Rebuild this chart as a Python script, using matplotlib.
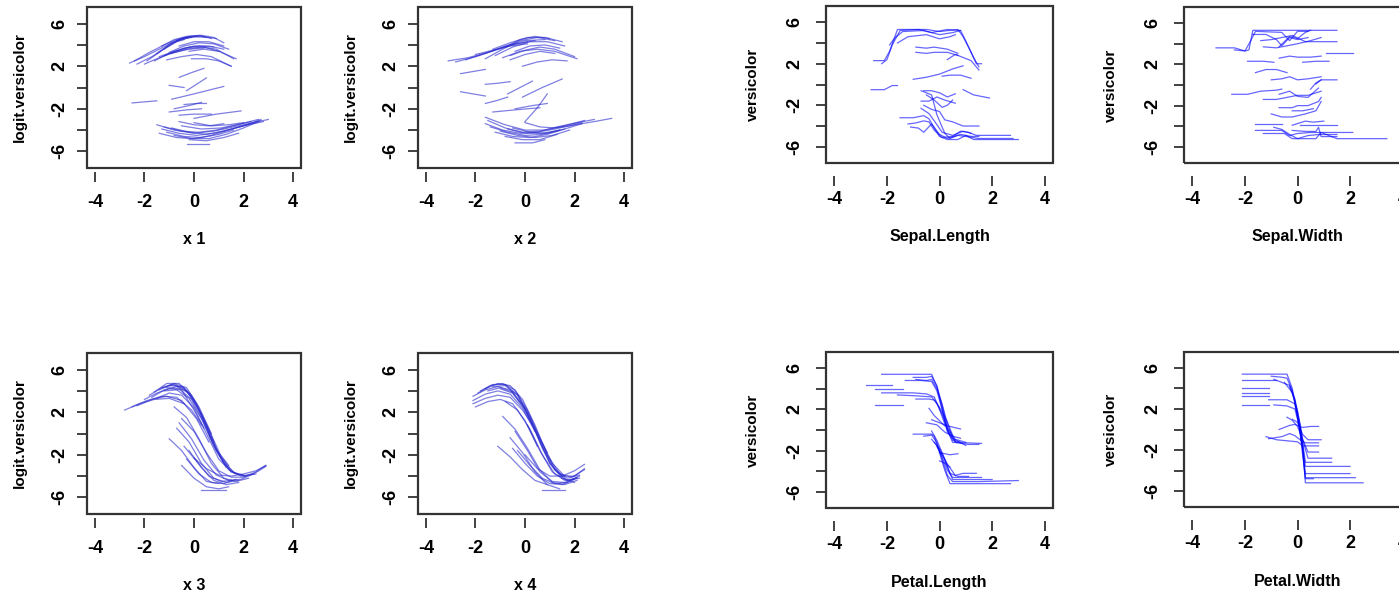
import matplotlib
matplotlib.use("Agg")
import matplotlib.pyplot as plt
from matplotlib.patches import Rectangle

plt.rcParams['font.family'] = ['Liberation Sans', 'DejaVu Sans']
plt.rcParams['font.weight'] = 'bold'
plt.rcParams['axes.unicode_minus'] = False

# ICE curves, one (x, y) pair per curve
x1_curves = [
    ([-2.6, -2.0, -1.4, -0.9, -0.4], [2.3, 2.9, 3.6, 4.2, 4.5]),
    ([-2.3, -1.7, -1.1, -0.6, -0.1], [2.2, 2.9, 3.8, 4.5, 4.7]),
    ([-1.9, -1.4, -0.9, -0.4, 0.1], [2.5, 3.3, 4.2, 4.7, 4.8]),
    ([-1.5, -1.0, -0.5, 0.0, 0.5], [3.2, 4.0, 4.6, 4.8, 4.7]),
    ([-1.2, -0.7, -0.2, 0.3, 0.9], [3.6, 4.3, 4.7, 4.8, 4.6]),
    ([-0.7, -0.2, 0.3, 0.8, 1.2], [4.4, 4.8, 4.9, 4.7, 4.2]),
    ([-2.0, -1.4, -0.8, -0.2, 0.4], [2.2, 2.8, 3.3, 3.6, 3.7]),
    ([-1.6, -1.0, -0.4, 0.2, 0.8], [2.5, 3.2, 3.7, 3.9, 3.8]),
    ([-1.2, -0.6, 0.0, 0.6, 1.2], [3.0, 3.5, 3.9, 3.9, 3.6]),
    ([-0.9, -0.3, 0.3, 0.9, 1.6], [3.2, 3.6, 3.8, 3.6, 2.7]),
    ([-1.1, -0.5, 0.1, 0.7, 1.5], [2.6, 2.9, 3.1, 2.9, 2.0]),
    ([-0.6, 0.0, 0.6, 1.2], [3.9, 4.3, 4.3, 3.9]),
    ([-0.2, 0.4, 1.0, 1.7], [3.4, 3.6, 3.4, 2.7]),
    ([-0.1, 0.5, 1.0, 1.5], [2.7, 2.7, 2.5, 2.0]),
    ([-2.4, -1.8, -1.2, -0.7, -0.2], [2.5, 3.3, 4.0, 4.5, 4.7]),
    ([-1.3, -0.8, -0.3, 0.2, 0.7], [3.9, 4.5, 4.8, 4.9, 4.6]),
    ([-1.0, -0.4, 0.2, 0.8, 1.4], [3.3, 3.9, 4.2, 4.1, 3.6]),
    ([-1.4, -0.8, -0.2, 0.4, 1.0], [2.9, 3.4, 3.8, 3.8, 3.4]),
    ([-2.5, -2.0, -1.5], [-1.45, -1.35, -1.25]),
    ([-0.6, -0.1, 0.4], [0.95, 1.4, 1.8]),
    ([-1.0, -0.7, -0.4], [0.2, 0.1, 0.0]),
    ([-0.3, 0.1, 0.5], [-0.3, 0.3, 0.9]),
    ([-0.9, 0.0, 1.2], [-1.1, -0.6, 0.1]),
    ([-0.8, -0.2, 0.3], [-2.0, -1.7, -1.4]),
    ([-1.0, -0.3, 0.3], [-2.3, -2.1, -2.0]),
    ([-0.6, 0.0, 0.7], [-2.6, -2.5, -2.5]),
    ([0.0, 0.9, 1.9], [-2.9, -2.5, -2.2]),
    ([-0.4, 0.1, 0.5], [-1.6, -1.5, -1.5]),
    ([-1.5, -0.8, 0.0, 0.8, 1.6, 2.4, 3.0], [-3.5, -4.0, -4.3, -4.1, -3.7, -3.3, -3.0]),
    ([-1.3, -0.6, 0.1, 0.8, 1.5, 2.2, 2.8], [-3.9, -4.3, -4.5, -4.3, -3.9, -3.5, -3.2]),
    ([-0.9, -0.2, 0.5, 1.2, 2.0, 2.7], [-3.8, -4.2, -4.4, -4.1, -3.6, -3.1]),
    ([-1.1, -0.4, 0.3, 1.0, 1.6], [-4.2, -4.6, -4.7, -4.4, -4.0]),
    ([-0.3, 0.2, 0.6], [-5.3, -5.3, -5.3]),
    ([-0.5, 0.3, 1.1, 1.9, 2.6], [-3.6, -3.9, -3.8, -3.4, -3.0]),
    ([0.0, 0.7, 1.4, 2.0], [-3.3, -3.6, -3.5, -3.3]),
    ([-0.2, 0.5, 1.2, 1.8], [-4.9, -5.0, -4.7, -4.3]),
    ([-1.4, -0.7, 0.0, 0.7, 1.4, 2.1, 2.7], [-4.3, -4.7, -4.8, -4.5, -4.0, -3.5, -3.0]),
    ([-0.8, -0.1, 0.6, 1.3, 2.0, 2.6], [-4.5, -4.8, -4.8, -4.4, -3.8, -3.2]),
    ([-1.2, -0.5, 0.2, 0.9, 1.6, 2.3], [-3.7, -4.1, -4.2, -4.0, -3.6, -3.2]),
    ([-0.6, 0.0, 0.6, 1.2], [-3.2, -3.5, -3.6, -3.4]),
]

x2_curves = [
    ([-3.1, -2.3, -1.5, -0.7, 0.1], [2.5, 2.8, 3.3, 3.9, 4.3]),
    ([-2.4, -1.6, -0.8, 0.0, 0.8], [2.6, 3.2, 3.9, 4.4, 4.5]),
    ([-1.6, -0.9, -0.2, 0.5, 1.2], [2.7, 3.6, 4.4, 4.7, 4.4]),
    ([-0.8, -0.2, 0.4, 1.0], [3.8, 4.5, 4.8, 4.6]),
    ([-1.2, -0.5, 0.2, 0.9, 1.6], [3.0, 3.8, 4.3, 4.3, 3.9]),
    ([-0.9, -0.2, 0.5, 1.2, 2.1], [2.8, 3.4, 3.6, 3.4, 2.7]),
    ([-0.6, 0.0, 0.6, 1.2], [2.6, 3.1, 3.4, 3.2]),
    ([-0.1, 0.5, 1.1, 1.7], [2.0, 2.4, 2.6, 2.5]),
    ([-0.4, 0.2, 0.8, 1.4], [3.4, 3.9, 4.0, 3.7]),
    ([-2.0, -1.3, -0.6, 0.1], [3.1, 3.5, 3.9, 4.1]),
    ([-2.8, -2.0, -1.2, -0.4, 0.4], [2.4, 2.9, 3.5, 4.1, 4.4]),
    ([-1.3, -0.6, 0.1, 0.8, 1.5], [3.6, 4.2, 4.7, 4.7, 4.3]),
    ([-0.6, 0.0, 0.6, 1.2, 2.0], [3.0, 3.5, 3.8, 3.6, 2.9]),
    ([-2.6, -2.1, -1.6], [1.3, 1.5, 1.7]),
    ([-1.6, -1.1, -0.6], [0.3, 0.4, 0.55]),
    ([-2.6, -2.1, -1.6], [-0.4, -0.6, -0.8]),
    ([-1.6, -1.1, -0.7], [-1.5, -1.2, -0.9]),
    ([-0.7, -0.2, 0.3], [-0.6, 0.0, 0.6]),
    ([-0.1, 0.7, 1.5], [-0.9, 0.0, 0.8]),
    ([-1.3, -0.4, 0.6], [-2.3, -2.1, -1.9]),
    ([0.0, 0.5, 0.9], [-3.2, -1.9, -0.6]),
    ([-0.4, 0.3, 0.9], [-2.0, -1.7, -1.5]),
    ([-1.6, -0.8, 0.0, 0.8, 1.6, 2.4], [-2.8, -3.5, -4.0, -4.0, -3.6, -3.1]),
    ([-1.6, -0.9, -0.2, 0.5, 1.2, 2.0, 2.8, 3.5], [-3.4, -4.0, -4.3, -4.2, -3.9, -3.5, -3.2, -2.9]),
    ([-1.4, -0.7, 0.0, 0.7, 1.4], [-3.7, -4.2, -4.5, -4.4, -4.0]),
    ([-1.0, -0.3, 0.4, 1.1, 1.8], [-4.1, -4.5, -4.7, -4.5, -4.0]),
    ([-0.4, 0.3, 0.8], [-5.2, -5.2, -4.9]),
    ([-0.8, -0.1, 0.6, 1.3], [-4.6, -4.9, -4.9, -4.4]),
    ([0.0, 0.6, 1.2, 1.8, 2.3], [-3.3, -3.7, -3.8, -3.6, -3.3]),
    ([-0.5, 0.2, 0.9, 1.6], [-3.8, -4.2, -4.3, -3.9]),
    ([-1.5, -0.8, -0.1, 0.6, 1.3, 2.1, 2.8], [-3.1, -3.8, -4.2, -4.1, -3.7, -3.3, -3.0]),
    ([-1.2, -0.5, 0.2, 0.9, 1.6, 2.3], [-4.2, -4.6, -4.7, -4.4, -3.9, -3.4]),
    ([-0.7, 0.0, 0.7, 1.4], [-3.9, -4.3, -4.3, -4.0]),
]

x3_curves = [
    ([-2.8, -2.2, -1.6, -1.0, -0.4], [2.2, 2.8, 3.2, 3.3, 2.8]),
    ([-2.0, -1.5, -1.0, -0.5, 0.0, 0.4], [3.2, 3.8, 4.2, 4.1, 2.2, 0.5]),
    ([-1.8, -1.3, -0.8, -0.3, 0.2, 0.7], [3.6, 4.3, 4.7, 4.3, 2.5, 0.0]),
    ([-1.6, -1.1, -0.6, -0.1, 0.4, 0.9, 1.4], [3.9, 4.7, 4.7, 3.6, 1.2, -1.5, -3.0]),
    ([-1.3, -0.8, -0.3, 0.2, 0.7, 1.2, 1.7], [4.3, 4.6, 4.0, 2.2, -0.6, -2.8, -3.8]),
    ([-1.0, -0.5, 0.0, 0.5, 1.0, 1.5, 2.0, 2.5], [4.5, 4.4, 3.2, 0.8, -1.9, -3.6, -4.0, -3.8]),
    ([-2.3, -1.7, -1.1, -0.5, 0.1, 0.6], [2.6, 3.2, 3.5, 3.1, 1.4, -0.8]),
    ([-1.5, -1.0, -0.5, 0.0, 0.5, 1.0, 1.5, 2.0], [3.3, 3.8, 3.6, 2.4, 0.0, -2.4, -3.6, -3.9]),
    ([-0.5, 0.0, 0.5, 1.0, 1.5, 2.0, 2.5, 2.9], [1.4, 0.2, -1.8, -3.5, -4.1, -4.1, -3.6, -3.0]),
    ([-0.7, -0.2, 0.3, 0.8, 1.3, 1.8], [0.5, -0.8, -2.8, -4.2, -4.6, -4.4]),
    ([-1.0, -0.5, 0.0, 0.5, 1.0], [-0.5, -1.6, -3.2, -4.5, -4.7]),
    ([-0.5, 0.0, 0.5, 1.0, 1.4], [-3.0, -4.2, -5.0, -5.2, -5.0]),
    ([-0.3, 0.2, 0.7, 1.2, 1.7], [-2.4, -3.8, -4.6, -4.7, -4.3]),
    ([0.0, 0.5, 1.0, 1.5, 2.0, 2.5, 2.9], [-2.3, -3.3, -3.9, -4.0, -3.8, -3.5, -3.0]),
    ([-0.4, 0.1, 0.6, 1.1, 1.5], [-1.2, -2.6, -4.0, -4.5, -4.4]),
    ([0.3, 0.8, 1.3], [-5.3, -5.3, -5.3]),
    ([-1.2, -0.7, -0.2, 0.3, 0.8, 1.3], [4.0, 4.1, 3.3, 1.4, -1.2, -3.2]),
    ([-0.8, -0.3, 0.2, 0.7, 1.2, 1.7, 2.2], [2.5, 1.5, -0.5, -2.8, -4.2, -4.5, -4.2]),
    ([-2.5, -1.9, -1.3, -0.7, -0.1, 0.3], [2.5, 3.1, 3.5, 3.4, 2.2, 0.8]),
    ([-1.4, -0.9, -0.4, 0.1, 0.6, 1.1, 1.6, 2.1], [4.1, 4.6, 4.3, 2.8, 0.4, -2.2, -3.7, -4.0]),
    ([-1.1, -0.6, -0.1, 0.4, 0.9, 1.4, 1.9, 2.4, 2.9], [4.3, 4.2, 3.2, 1.0, -1.6, -3.4, -4.0, -3.8, -3.1]),
    ([-0.6, -0.1, 0.4, 0.9, 1.4, 1.9, 2.4], [1.0, -0.5, -2.5, -3.9, -4.4, -4.3, -3.8]),
    ([-0.2, 0.3, 0.8, 1.3, 1.8], [-1.6, -3.2, -4.4, -4.8, -4.6]),
    ([-1.7, -1.2, -0.7, -0.2, 0.3, 0.8], [3.4, 4.1, 4.4, 3.8, 1.8, -0.8]),
]

x4_curves = [
    ([-2.1, -1.6, -1.1, -0.6, -0.1, 0.3], [2.8, 3.3, 3.6, 3.4, 2.2, 0.8]),
    ([-2.1, -1.6, -1.1, -0.6, -0.1, 0.4, 0.9], [3.5, 4.1, 4.4, 4.1, 2.6, 0.4, -1.8]),
    ([-1.9, -1.4, -0.9, -0.4, 0.1, 0.6, 1.1, 1.6], [3.8, 4.5, 4.7, 4.1, 2.2, -0.4, -2.8, -4.0]),
    ([-1.6, -1.1, -0.6, -0.1, 0.4, 0.9, 1.4, 1.9, 2.4], [4.2, 4.7, 4.5, 3.2, 0.8, -2.0, -3.8, -4.1, -3.4]),
    ([-1.3, -0.8, -0.3, 0.2, 0.7, 1.2, 1.7, 2.2], [4.4, 4.5, 3.6, 1.6, -1.1, -3.4, -4.4, -4.2]),
    ([-2.0, -1.5, -1.0, -0.5, 0.0, 0.5], [2.5, 3.0, 3.2, 2.8, 1.2, -1.2]),
    ([-1.0, -0.5, 0.0, 0.5, 1.0, 1.5, 2.0], [4.2, 3.8, 2.3, -0.2, -2.8, -4.2, -4.6]),
    ([-0.9, -0.4, 0.1, 0.6, 1.1, 1.6, 2.1], [1.6, 0.4, -1.4, -3.4, -4.6, -4.8, -4.4]),
    ([-1.1, -0.6, -0.1, 0.4, 0.9], [-1.2, -2.2, -3.4, -4.4, -4.8]),
    ([-0.6, -0.1, 0.4, 0.9, 1.4], [-0.4, -1.8, -3.6, -4.8, -5.2]),
    ([0.7, 1.1, 1.6], [-5.3, -5.3, -5.3]),
    ([-0.3, 0.2, 0.7, 1.2, 1.7, 2.2], [-1.6, -3.0, -4.2, -4.7, -4.6, -4.0]),
    ([0.1, 0.6, 1.1, 1.6, 2.1], [0.8, -1.6, -3.6, -4.4, -4.2]),
    ([-0.8, -0.3, 0.2, 0.7, 1.2, 1.7], [3.0, 2.2, 0.4, -2.0, -3.8, -4.4]),
    ([0.0, 0.5, 1.0, 1.5, 2.0, 2.4], [-2.0, -3.3, -4.0, -4.0, -3.5, -2.9]),
    ([-1.8, -1.3, -0.8, -0.3, 0.2, 0.7, 1.2, 1.7, 2.2], [4.0, 4.6, 4.6, 3.6, 1.4, -1.4, -3.4, -4.2, -3.9]),
    ([-1.5, -1.0, -0.5, 0.0, 0.5, 1.0, 1.5, 2.0, 2.4], [4.0, 4.3, 3.9, 2.4, -0.2, -2.8, -4.0, -4.0, -3.3]),
    ([-2.1, -1.6, -1.1, -0.6, -0.1, 0.4], [3.1, 3.7, 4.0, 3.7, 2.4, 0.2]),
    ([-0.4, 0.1, 0.6, 1.1, 1.6, 2.1], [0.2, -1.6, -3.6, -4.5, -4.6, -4.1]),
    ([-0.5, 0.0, 0.5, 1.0, 1.5, 2.0], [-1.4, -2.8, -4.0, -4.7, -4.8, -4.3]),
]

sepal_length_curves = [
    ([-2.5, -2.1, -1.9, -1.6, -0.5, 0.0, 0.7, 0.9, 1.2, 1.4, 1.6], [2.3, 2.3, 3.2, 5.3, 5.3, 5.1, 5.3, 4.6, 3.1, 2.0, 2.0]),
    ([-2.2, -2.0, -1.8, -1.5, -0.8, -0.3, 0.3, 0.8, 1.0, 1.3, 1.5], [2.0, 2.4, 3.8, 5.2, 5.3, 5.0, 5.3, 5.2, 4.2, 2.6, 1.7]),
    ([-1.9, -1.7, -1.4, -0.6, 0.0, 0.5, 0.8], [3.8, 4.5, 5.1, 5.2, 4.8, 5.0, 5.2]),
    ([-1.6, -1.2, -0.5, 0.0, 0.4, 0.6], [4.0, 4.6, 4.8, 4.4, 4.6, 4.8]),
    ([-0.9, -0.5, -0.2, 0.3, 0.7], [3.6, 3.5, 3.6, 3.4, 3.0]),
    ([-0.9, -0.5, -0.2, 0.3, 0.7], [3.1, 3.0, 3.1, 3.1, 2.8]),
    ([0.3, 0.6, 0.9, 1.2, 1.5], [2.4, 2.9, 2.6, 2.3, 1.4]),
    ([-1.0, -0.5, 0.0, 0.5, 0.9], [0.5, 0.7, 1.0, 1.5, 1.8]),
    ([0.1, 0.4, 0.8, 1.2], [0.8, 0.9, 0.9, 0.6]),
    ([-2.6, -2.1, -1.8, -1.6], [-0.5, -0.5, -0.1, -0.1]),
    ([-0.6, -0.3, 0.0, 0.3, 0.6], [-0.6, -0.6, -0.8, -1.2, -0.9]),
    ([0.9, 1.3, 1.9], [-0.5, -1.0, -1.3]),
    ([-0.7, -0.3, -0.1, 0.2, 0.4, 0.7, 1.0, 1.5, 2.8], [-0.6, -1.0, -2.9, -4.7, -5.2, -4.9, -5.0, -5.2, -5.2]),
    ([-1.5, -1.0, -0.6, -0.4, -0.2, 0.0, 0.3, 0.7, 1.0, 1.3, 3.0], [-3.2, -3.2, -3.0, -3.3, -4.2, -5.0, -5.3, -5.3, -4.9, -5.3, -5.3]),
    ([-1.2, -0.9, -0.6, -0.4, -0.2, 0.1, 0.5, 0.8, 1.1, 1.4, 2.7], [-3.8, -3.7, -3.5, -3.6, -4.4, -5.1, -5.0, -4.5, -4.6, -4.9, -4.9]),
    ([-1.1, -0.8, -0.6, -0.3, 0.0, 0.3, 0.8, 1.2, 1.5], [-4.1, -4.2, -4.6, -3.8, -4.8, -5.2, -4.8, -5.0, -5.0]),
    ([-0.7, -0.4, -0.2, 0.1, 0.5, 0.9, 1.2], [-2.3, -2.8, -3.5, -4.6, -4.9, -4.5, -4.7]),
    ([-0.6, -0.3, 0.0, 0.2, 0.5, 0.9, 1.5], [-2.0, -2.4, -2.6, -3.4, -3.6, -4.0, -4.0]),
    ([-0.5, -0.2, 0.1, 0.3, 0.5], [-1.0, -1.5, -2.2, -2.0, -1.5]),
    ([-0.7, -0.4, -0.1, 0.2, 0.6], [-1.6, -1.6, -1.2, -1.5, -1.8]),
]

sepal_width_curves = [
    ([-3.1, -2.4, -2.0, -1.85, -1.7, -0.5, 0.0, 1.5], [3.6, 3.6, 3.3, 3.4, 5.3, 5.3, 5.3, 5.3]),
    ([-2.4, -2.0, -1.8, -1.6, -0.6, -0.3, 0.0, 0.4], [3.4, 3.3, 4.2, 5.2, 5.1, 4.3, 5.2, 5.2]),
    ([-1.7, -1.2, -0.8, -0.6, -0.3, 0.0, 0.4], [4.9, 4.9, 4.4, 3.8, 4.6, 4.4, 4.6]),
    ([-1.4, -1.0, -0.6, -0.2, 0.3, 1.5], [4.3, 4.4, 4.6, 4.8, 4.2, 4.2]),
    ([-1.3, -0.8, -0.4, 0.0, 0.5, 0.9], [3.7, 3.6, 3.8, 4.0, 4.3, 4.6]),
    ([-0.7, -0.3, 0.0, 0.3, 0.5], [3.7, 4.7, 4.5, 5.1, 5.3]),
    ([-0.7, -0.3, 0.0, 0.5, 0.9], [2.6, 2.8, 2.7, 2.7, 2.8]),
    ([1.1, 1.5, 2.1], [3.1, 3.1, 3.1]),
    ([-1.9, -1.3, -0.9], [2.3, 2.3, 2.2]),
    ([0.2, 0.7, 1.2], [2.2, 2.3, 2.3]),
    ([-1.6, -1.2, -0.8, -0.4], [1.2, 1.5, 1.5, 1.2]),
    ([-1.0, -0.6, -0.3, 0.0, 0.4, 0.9], [0.5, 0.6, 0.8, 0.5, 0.6, 0.8]),
    ([0.7, 0.9, 1.5], [0.1, 0.5, 0.5]),
    ([-2.5, -1.9, -1.4, -0.8, -0.6], [-0.9, -0.9, -0.6, -0.5, -0.4]),
    ([-1.3, -0.8, -0.4, 0.0, 0.4, 0.9], [-1.4, -1.4, -1.2, -1.0, -1.0, -0.6]),
    ([-0.7, -0.3, 0.0, 0.4, 0.8], [-0.9, -0.6, -1.1, -1.2, -0.3]),
    ([0.5, 0.7, 0.9], [-0.4, 0.2, 0.5]),
    ([-0.7, -0.2, 0.0, 0.4, 0.8, 0.9], [-2.2, -2.2, -2.0, -2.0, -1.6, -1.2]),
    ([-1.0, -0.6, -0.2, 0.3, 0.7, 0.9], [-2.8, -3.1, -3.1, -2.8, -2.5, -1.6]),
    ([-0.2, 0.2, 0.6], [-2.5, -2.5, -2.3]),
    ([-1.6, -1.2, -0.6], [-3.8, -3.8, -3.8]),
    ([-0.2, 0.3, 0.6, 1.0], [-3.9, -3.5, -3.6, -3.5]),
    ([0.1, 0.5, 0.9, 1.5], [-3.9, -3.9, -3.9, -3.9]),
    ([-1.6, -1.0, -0.6, -0.3, 0.0, 0.5, 1.0, 2.1], [-4.4, -4.4, -4.4, -4.9, -4.7, -4.6, -4.6, -4.6]),
    ([-1.3, -0.8, -0.5, -0.2, 0.0, 0.4, 0.8, 1.5], [-4.7, -4.7, -4.7, -5.2, -5.2, -4.9, -4.8, -4.8]),
    ([-0.9, -0.6, -0.3, 0.0, 0.7, 0.9, 1.5, 2.5, 3.4], [-4.1, -4.3, -4.8, -5.2, -5.2, -4.6, -5.2, -5.2, -5.2]),
    ([-0.2, 0.3, 0.7, 0.8, 0.9, 1.5], [-4.4, -4.5, -4.5, -4.1, -5.0, -5.0]),
]

petal_length_curves = [
    ([-2.2, -1.2, -0.3, -0.1, 0.1, 0.3, 0.5, 1.6], [5.4, 5.4, 5.4, 4.2, 2.0, 0.0, -1.2, -1.3]),
    ([-1.0, -0.5, -0.3, -0.1, 0.1, 0.3, 0.6, 1.0], [5.1, 5.1, 5.2, 4.3, 2.4, 0.2, -0.9, -1.2]),
    ([-2.8, -1.8], [4.4, 4.4]),
    ([-2.45, -1.4], [4.0, 4.0]),
    ([-2.2, -1.0, -0.5, -0.2, 0.0, 0.2, 0.4], [3.6, 3.6, 3.5, 3.2, 2.0, 0.6, -0.5]),
    ([-1.6, -0.8, -0.3, -0.1, 0.1, 0.3, 0.5, 0.8], [3.4, 3.3, 3.2, 2.6, 1.5, 0.2, -1.0, -1.2]),
    ([-2.45, -1.4], [2.4, 2.4]),
    ([-0.9, -0.5, -0.3, -0.1, 0.1, 0.3, 0.5, 1.0], [4.9, 4.8, 4.9, 4.0, 2.5, 0.6, -0.8, -1.5]),
    ([-1.3, -0.7, -0.3, -0.1, 0.1, 0.3, 0.6], [4.8, 4.8, 4.7, 3.8, 2.0, -0.2, -1.1]),
    ([-0.9, -0.4, -0.2, 0.0, 0.3, 0.6, 1.1, 1.5], [3.0, 3.0, 2.9, 2.2, 0.8, -1.2, -1.4, -1.4]),
    ([-0.4, -0.2, 0.0, 0.2], [2.1, 1.4, 0.9, 0.4]),
    ([-0.3, 0.0, 0.3, 0.8], [1.0, 0.7, 0.4, 0.1]),
    ([-0.5, -0.1, 0.2, 0.5, 0.8], [0.7, 0.5, -0.2, -0.6, -0.8]),
    ([-1.0, -0.3, -0.2, 0.0, 0.2, 0.4, 0.8, 2.7], [-0.4, -0.4, -0.6, -2.2, -3.9, -5.2, -5.2, -5.2]),
    ([-0.6, -0.3, -0.1, 0.1, 0.3, 0.5, 1.5, 3.0], [-0.6, -0.5, -1.2, -2.8, -4.4, -5.0, -5.0, -4.9]),
    ([-0.3, -0.1, 0.1, 0.3, 0.5, 1.2, 2.0], [-0.1, -1.0, -2.2, -3.6, -4.8, -4.8, -4.8]),
    ([-0.2, 0.0, 0.2, 0.4, 0.7, 1.1], [-1.2, -1.8, -2.8, -4.2, -4.5, -4.5]),
    ([-0.1, 0.1, 0.3, 0.6, 0.9, 1.4], [-1.6, -2.4, -3.3, -4.4, -4.2, -4.2]),
    ([0.0, 0.2, 0.4, 0.7], [-2.2, -2.3, -2.4, -2.3]),
    ([0.0, 0.2, 0.4], [-3.0, -3.2, -3.6]),
    ([-0.3, -0.1, 0.1, 0.3, 0.5, 1.0, 1.6], [-0.9, -1.5, -2.6, -3.9, -4.6, -4.6, -4.6]),
]

petal_width_curves = [
    ([-2.1, -1.0, -0.4, -0.2, 0.0, 0.2, 0.3, 2.5], [5.4, 5.4, 5.4, 4.0, 1.5, -2.0, -5.2, -5.2]),
    ([-1.0, -0.6, -0.4, -0.2, 0.0, 0.2, 0.3, 0.6], [5.2, 5.1, 5.0, 3.8, 1.2, -1.8, -4.8, -4.8]),
    ([-2.1, -0.8], [4.8, 4.8]),
    ([-0.9, -0.6, -0.3, -0.1, 0.1, 0.3, 1.3], [4.9, 4.6, 4.3, 3.0, 0.5, -3.2, -3.2]),
    ([-2.1, -1.1], [4.0, 4.0]),
    ([-2.1, -1.1], [3.6, 3.6]),
    ([-2.1, -1.1], [3.3, 3.3]),
    ([-2.1, -1.1], [2.4, 2.4]),
    ([-1.1, -0.4, -0.1, 0.1, 0.3, 2.0], [2.9, 2.9, 2.5, 0.2, -3.6, -3.6]),
    ([-0.9, -0.4, -0.1, 0.1, 0.3, 2.0], [2.4, 2.3, 2.0, 0.0, -4.3, -4.3]),
    ([-0.7, -0.3, -0.1, 0.2, 0.5, 0.8], [0.0, 0.4, 0.5, 0.2, 0.3, 0.3]),
    ([-1.1, -0.6, -0.3, -0.1, 0.1, 0.3, 0.8], [-0.9, -0.7, -0.4, -0.6, -1.0, -1.3, -1.3]),
    ([-1.2, -0.8, -0.4, 0.0, 0.2, 0.8], [-0.7, -1.0, -1.1, -1.2, -1.6, -1.6]),
    ([-0.3, -0.1, 0.1, 0.3, 2.2], [4.2, 2.8, -0.4, -4.7, -4.7]),
    ([-0.5, -0.2, 0.0, 0.2, 0.4, 1.3], [4.6, 3.6, 1.8, -1.0, -2.8, -2.8]),
    ([-0.4, -0.2, 0.0, 0.2, 0.4, 0.8], [1.2, 0.9, 0.3, -1.0, -2.2, -2.2]),
    ([-0.2, 0.0, 0.2, 0.4, 0.9], [1.0, 0.7, -0.5, -1.0, -1.0]),
]

x_ticks = [-4, -2, 0, 2, 4]
y_ticks = [-6, -4, -2, 0, 2, 4, 6]
y_tick_labels = ['-6', '', '-2', '', '2', '', '6']

W, H = 1399, 594
fig = plt.figure(figsize=(W / 100, H / 100), dpi=100)


def panel(box, curves, xlabel, ylabel, color, gap, ylab_off, xlab_off, ypad, xpad):
    x0, y0, x1, y1 = box
    ax = fig.add_axes([x0 / W, 1 - y1 / H, (x1 - x0) / W, (y1 - y0) / H])
    for xs, ys in curves:
        ax.plot(xs, ys, color=color, lw=0.9, alpha=0.6)
    ax.set_xlim(-4.32, 4.32)
    ax.set_ylim(-7.56, 7.56)
    for s in ax.spines.values():
        s.set_visible(False)
    ax.spines['bottom'].set_position(('outward', gap))
    ax.add_patch(Rectangle((0, 0), 1, 1, transform=ax.transAxes, fill=False,
                           lw=1.6, ec='#333333', clip_on=False))
    ax.set_xticks(x_ticks)
    ax.set_xticklabels([str(t) for t in x_ticks])
    ax.set_yticks(y_ticks)
    ax.set_yticklabels(y_tick_labels, rotation=90, va='center')
    ax.tick_params(direction='out', length=7.5, width=1.3, color='#333333',
                   labelsize=13)
    ax.tick_params(axis='y', pad=ypad)
    ax.tick_params(axis='x', pad=xpad)
    fig.text((x0 + x1) / 2 / W, 1 - (y1 + xlab_off) / H, xlabel, ha='center',
             va='center', fontsize=11.5, fontweight='bold')
    fig.text((x0 - ylab_off) / W, 1 - (y0 + y1) / 2 / H, ylabel, ha='center',
             va='center', rotation=90, fontsize=11, fontweight='bold')
    return ax


left_col = '#2a2ad0'
right_col = '#0000ff'
panel((87, 7, 301, 168), x1_curves, 'x 1', 'logit.versicolor', left_col, 3, 67, 71, 6, 8)
panel((418, 7, 632, 168), x2_curves, 'x 2', 'logit.versicolor', left_col, 3, 67, 71, 6, 8)
panel((87, 353, 301, 514), x3_curves, 'x 3', 'logit.versicolor', left_col, 3, 67, 71, 6, 8)
panel((418, 353, 632, 514), x4_curves, 'x 4', 'logit.versicolor', left_col, 3, 67, 71, 6, 8)
panel((826, 6, 1053, 163), sepal_length_curves, 'Sepal.Length', 'versicolor', right_col, 9, 73, 74, 9, 4)
panel((1184, 7, 1411, 163), sepal_width_curves, 'Sepal.Width', 'versicolor', right_col, 9, 73, 74, 9, 4)
panel((826, 352, 1053, 508), petal_length_curves, 'Petal.Length', 'versicolor', right_col, 9, 73, 74, 9, 4)
panel((1184, 352, 1411, 507), petal_width_curves, 'Petal.Width', 'versicolor', right_col, 9, 73, 74, 9, 4)

fig.savefig('out.png', dpi=100)
